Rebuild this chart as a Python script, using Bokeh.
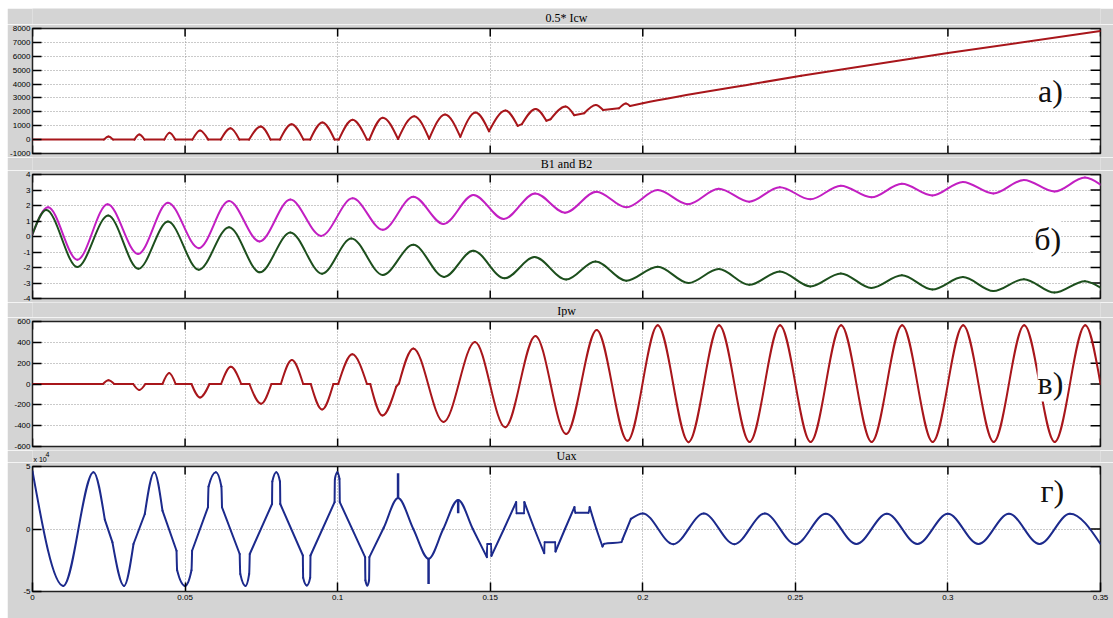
import math
from bokeh.plotting import figure
from bokeh.models import Range1d, FixedTicker, Label, ColumnDataSource, Spacer
from bokeh.layouts import column, row
from bokeh.embed import file_html
from bokeh.resources import INLINE

# ---------------- data (time in s) ----------------
x_ticks = [0, 0.05, 0.1, 0.15, 0.2, 0.25, 0.3, 0.35]
x_tick_labels = ["0", "0.05", "0.1", "0.15", "0.2", "0.25", "0.3", "0.35"]
titles = ["0.5* Icw", "B1 and B2", "Ipw", "Uax"]
panel_letters = ["а)", "б)", "в)", "г)"]

icw_ticks = [-1000, 0, 1000, 2000, 3000, 4000, 5000, 6000, 7000, 8000]
b_ticks = [-4, -3, -2, -1, 0, 1, 2, 3, 4]
ipw_ticks = [-600, -400, -200, 0, 200, 400, 600]
uax_ticks = [-5, 0, 5]

# 0.5*Icw : smooth pieces joined at corners, (t, value)
icw = [
    [(0.0, 0), (0.0234, 0)],
    [(0.0234, 0), (0.0249, 220), (0.0264, 0)],
    [(0.0264, 0), (0.0334, 0)],
    [(0.0334, 0), (0.0350, 360), (0.0367, 0)],
    [(0.0367, 0), (0.0432, 0)],
    [(0.0432, 0), (0.0449, 500), (0.0468, 0)],
    [(0.0468, 0), (0.0524, 0)],
    [(0.0524, 0), (0.0549, 660), (0.0576, 0)],
    [(0.0576, 0), (0.0617, 0)],
    [(0.0617, 0), (0.0649, 820), (0.0678, 0)],
    [(0.0678, 0), (0.0710, 0)],
    [(0.0710, 0), (0.0748, 950), (0.0780, 0)],
    [(0.0780, 0), (0.0811, 0)],
    [(0.0811, 0), (0.0849, 1100), (0.0888, 0)],
    [(0.0888, 0), (0.0910, 0)],
    [(0.0910, 0), (0.0950, 1230), (0.0990, 0)],
    [(0.0990, 0), (0.1004, 0)],
    [(0.1004, 0), (0.1049, 1430), (0.1096, 0)],
    [(0.1096, 0), (0.1104, 0)],
    [(0.1104, 0), (0.1148, 1580), (0.1198, 40)],
    [(0.1198, 40), (0.1251, 1690), (0.1300, 60)],
    [(0.1300, 60), (0.1352, 1810), (0.1402, 200)],
    [(0.1402, 200), (0.1452, 1950), (0.1496, 600)],
    [(0.1496, 600), (0.1550, 2090), (0.1590, 990)],
    [(0.1590, 990), (0.1604, 1120)],
    [(0.1604, 1120), (0.1649, 2210), (0.1684, 1360)],
    [(0.1684, 1360), (0.1698, 1470)],
    [(0.1698, 1470), (0.1747, 2380), (0.1775, 1760)],
    [(0.1775, 1760), (0.1808, 1900)],
    [(0.1808, 1900), (0.1846, 2500), (0.1870, 2130)],
    [(0.1870, 2130), (0.1922, 2250)],
    [(0.1922, 2250), (0.1945, 2600), (0.1958, 2420)],
    [(0.1958, 2420), (0.2000, 2620), (0.2355, 3990), (0.2519, 4590), (0.3000, 6230), (0.3500, 7820)],
]

# B1 (magenta) and B2 (green): extremes of each half period
b1 = [(0.0, 0.15), (0.0051, 1.88), (0.0147, -1.50), (0.0246, 2.08), (0.0346, -1.13),
      (0.0444, 2.18), (0.0545, -0.75), (0.0644, 2.29), (0.0744, -0.32), (0.0845, 2.38),
      (0.0946, 0.04), (0.1049, 2.46), (0.1148, 0.43), (0.1248, 2.57), (0.1347, 0.81),
      (0.1445, 2.68), (0.1544, 1.13), (0.1647, 2.78), (0.1745, 1.54), (0.1848, 2.89),
      (0.1946, 1.88), (0.2049, 3.00), (0.2148, 2.08), (0.2249, 3.08), (0.2349, 2.25),
      (0.2449, 3.18), (0.2549, 2.40), (0.2649, 3.28), (0.2749, 2.53), (0.2849, 3.40),
      (0.2949, 2.65), (0.3049, 3.52), (0.3149, 2.78), (0.3249, 3.65), (0.3349, 2.90),
      (0.3449, 3.80), (0.3500, 3.35)]
b2 = [(0.0, 0.15), (0.0045, 1.71), (0.0147, -1.97), (0.0248, 1.35), (0.0347, -2.08),
      (0.0444, 0.96), (0.0545, -2.14), (0.0644, 0.60), (0.0745, -2.31), (0.0845, 0.26),
      (0.0949, -2.40), (0.1045, -0.13), (0.1148, -2.48), (0.1248, -0.54), (0.1349, -2.61),
      (0.1444, -0.92), (0.1547, -2.70), (0.1645, -1.33), (0.1749, -2.78), (0.1845, -1.61),
      (0.1946, -2.85), (0.2049, -1.95), (0.2150, -3.00), (0.2249, -2.10), (0.2349, -3.12),
      (0.2449, -2.25), (0.2549, -3.22), (0.2649, -2.38), (0.2749, -3.32), (0.2849, -2.50),
      (0.2949, -3.42), (0.3049, -2.62), (0.3149, -3.52), (0.3249, -2.75), (0.3349, -3.62),
      (0.3449, -2.88), (0.3500, -3.30)]

# Ipw
ipw = [
    [(0.0, 0), (0.0231, 0)],
    [(0.0231, 0), (0.0249, 35), (0.0268, 0)],
    [(0.0268, 0), (0.0330, 0)],
    [(0.0330, 0), (0.0350, -58), (0.0370, 0)],
    [(0.0370, 0), (0.0426, 0)],
    [(0.0426, 0), (0.0448, 105), (0.0469, 0)],
    [(0.0469, 0), (0.0521, 0)],
    [(0.0521, 0), (0.0549, -130), (0.0580, 0)],
    [(0.0580, 0), (0.0618, 0)],
    [(0.0618, 0), (0.0650, 165), (0.0684, 0)],
    [(0.0684, 0), (0.0711, 0)],
    [(0.0711, 0), (0.0749, -190), (0.0783, 0)],
    [(0.0783, 0), (0.0814, 0)],
    [(0.0814, 0), (0.0850, 230), (0.0887, 0)],
    [(0.0887, 0), (0.0912, 0)],
    [(0.0912, 0), (0.0949, -245), (0.0986, 0)],
    [(0.0986, 0), (0.1002, 0)],
    [(0.1002, 0), (0.1048, 285), (0.1096, 0)],
    [(0.1096, 0), (0.1107, 0)],
    [(0.1107, 0), (0.1147, -303), (0.1192, -25)],
    [(0.1192, -25), (0.1201, 5)],
    [(0.1201, 5), (0.1248, 342), (0.1347, -365), (0.1450, 403), (0.1549, -416),
     (0.1648, 461), (0.1749, -481), (0.1849, 519), (0.1950, -545), (0.2049, 563),
     (0.2150, -558), (0.2250, 563), (0.2350, -556), (0.2450, 564), (0.2550, -556),
     (0.2650, 564), (0.2750, -556), (0.2850, 564), (0.2950, -556), (0.3050, 564),
     (0.3150, -556), (0.3250, 564), (0.3350, -556), (0.3450, 564), (0.3500, 0)],
]

# Uax in units of 10^4
uax_e4 = [
    [(0.0, 4.62), (0.0101, -4.55), (0.0200, 4.55), (0.0237, 0.75)],
    [(0.0237, 0.75), (0.0262, -1.07)],
    [(0.0262, -1.07), (0.0300, -4.55), (0.0331, -1.20)],
    [(0.0331, -1.20), (0.0368, 1.20)],
    [(0.0368, 1.20), (0.0399, 4.55), (0.0426, 1.47)],
    [(0.0426, 1.47), (0.0472, -1.74)],
    [(0.0472, -1.74), (0.0474, -3.30), (0.0500, -4.55), (0.0521, -3.30), (0.0523, -1.74)],
    [(0.0523, -1.74), (0.0575, 1.74)],
    [(0.0575, 1.74), (0.0577, 3.40), (0.0601, 4.55), (0.0619, 3.40), (0.0621, 1.74)],
    [(0.0621, 1.74), (0.0679, -2.00)],
    [(0.0679, -2.00), (0.0681, -3.60), (0.0698, -4.55), (0.0710, -3.60), (0.0712, -2.00)],
    [(0.0712, -2.00), (0.0785, 2.00)],
    [(0.0785, 2.00), (0.0786, 3.80), (0.0799, 4.55), (0.0811, 3.80), (0.0812, 2.00)],
    [(0.0812, 2.00), (0.0886, -2.12)],
    [(0.0886, -2.12), (0.0887, -3.90), (0.0899, -4.52), (0.0910, -3.90), (0.0911, -2.12)],
    [(0.0911, -2.12), (0.0990, 2.15)],
    [(0.0990, 2.15), (0.0991, 4.00), (0.0999, 4.55), (0.1006, 4.00), (0.1007, 2.15)],
    [(0.1007, 2.15), (0.1090, -2.25)],
    [(0.1090, -2.25), (0.1091, -4.10), (0.1097, -4.52), (0.1103, -4.10), (0.1104, -2.25)],
    [(0.1104, -2.25), (0.1151, 0.10), (0.1198, 2.48), (0.1248, 0.00), (0.1298, -2.38),
     (0.1346, 0.00), (0.1395, 2.33), (0.1443, 0.00), (0.1489, -2.25)],
    [(0.1489, -2.25), (0.1490, -1.19), (0.1503, -1.19), (0.1504, -2.15)],
    [(0.1504, -2.15), (0.1545, 0.00), (0.1585, 2.15)],
    [(0.1585, 2.15), (0.1586, 1.27), (0.1611, 1.27), (0.1612, 2.15)],
    [(0.1612, 2.15), (0.1645, 0.00), (0.1677, -1.93)],
    [(0.1677, -1.93), (0.1678, -1.05), (0.1713, -1.05), (0.1714, -1.80)],
    [(0.1714, -1.80), (0.1745, 0.00), (0.1776, 1.75)],
    [(0.1776, 1.75), (0.1779, 1.30), (0.1822, 1.30), (0.1826, 1.75)],
    [(0.1826, 1.75), (0.1848, 0.00), (0.1868, -1.40)],
    [(0.1868, -1.40), (0.1873, -1.19), (0.1930, -1.05), (0.1934, -0.80)],
    [(0.1934, -0.80), (0.1961, 0.81)],
    [(0.1961, 0.81), (0.2000, 1.25), (0.2100, -1.22), (0.2200, 1.24), (0.2300, -1.22),
     (0.2400, 1.24), (0.2500, -1.22), (0.2600, 1.22), (0.2700, -1.20), (0.2800, 1.22),
     (0.2900, -1.20), (0.3000, 1.22), (0.3100, -1.20), (0.3200, 1.22), (0.3300, -1.20),
     (0.3400, 1.22), (0.3500, -1.20)],
]
# vertical spikes (t, from, to)
uax_spikes_e4 = [(0.1198, 2.48, 4.47), (0.1298, -2.38, -4.39), (0.1395, 2.33, 1.27)]

# ---------------- helpers ----------------
GRAY = "#d4d4d4"
W = 1106
BL, BR = 24, 13
FRAME_W = W - BL - BR


def bezier_source(pieces):
    """Monotone cubic (d3 monotoneX style) rendering of each smooth piece."""
    c = dict(x0=[], y0=[], x1=[], y1=[], cx0=[], cy0=[], cx1=[], cy1=[])
    for pts in pieces:
        xs = [q[0] for q in pts]
        ys = [q[1] for q in pts]
        n = len(xs)
        s = [(ys[i + 1] - ys[i]) / (xs[i + 1] - xs[i]) for i in range(n - 1)]
        m = [0.0] * n
        if n == 2:
            m = [s[0], s[0]]
        else:
            for i in range(1, n - 1):
                h0 = xs[i] - xs[i - 1]
                h1 = xs[i + 1] - xs[i]
                pp = (s[i - 1] * h1 + s[i] * h0) / (h0 + h1)
                if s[i - 1] * s[i] <= 0:
                    m[i] = 0.0
                else:
                    m[i] = math.copysign(2 * min(abs(s[i - 1]), abs(s[i]), 0.5 * abs(pp)), s[i])
            m[0] = (3 * s[0] - m[1]) / 2
            m[-1] = (3 * s[-1] - m[-2]) / 2
        for i in range(n - 1):
            dx = (xs[i + 1] - xs[i]) / 3
            c["x0"].append(xs[i]); c["y0"].append(ys[i])
            c["x1"].append(xs[i + 1]); c["y1"].append(ys[i + 1])
            c["cx0"].append(xs[i] + dx); c["cy0"].append(ys[i] + dx * m[i])
            c["cx1"].append(xs[i + 1] - dx); c["cy1"].append(ys[i + 1] - dx * m[i + 1])
    return ColumnDataSource(c)


def draw(p, pieces, color):
    p.bezier(x0="x0", y0="y0", x1="x1", y1="y1", cx0="cx0", cy0="cy0", cx1="cx1", cy1="cy1",
             source=bezier_source(pieces), line_color=color, line_width=2, line_cap="round")


def style_axis(ax, ticks, labels, standoff):
    ax.ticker = FixedTicker(ticks=ticks)
    ax.major_tick_in = 9
    ax.major_tick_out = 0
    ax.minor_tick_line_color = None
    ax.axis_line_color = None
    ax.major_tick_line_color = "black"
    ax.major_tick_line_width = 1.5
    ax.major_label_overrides = {t: l for t, l in zip(ticks, labels)}
    ax.major_label_text_font = "Liberation Sans"
    ax.major_label_text_font_size = "8px"
    ax.major_label_text_color = "#000000"
    ax.major_label_standoff = standoff


def strip(height, texts):
    """Gray band between panels holding the scope titles."""
    s = figure(width=W, height=height, x_range=Range1d(0, 0.35), y_range=Range1d(height, 0),
               output_backend="svg", toolbar_location=None,
               min_border_left=BL, min_border_right=BR, min_border_top=0, min_border_bottom=0,
               border_fill_color=GRAY, background_fill_color=GRAY, outline_line_color=None,
               x_axis_location=None, y_axis_location=None)
    s.grid.visible = False
    for (tx, ty, txt, size, align, xo, font) in texts:
        s.add_layout(Label(x=tx, y=ty, x_offset=xo, text=txt, text_align=align,
                           text_baseline="middle", text_font=font,
                           text_font_size=size, text_color="#000000"))
    return s


def make_panel(height, btop, bbot, y0, y1, yticks, frame_h, letter, letter_xy, show_x):
    p = figure(width=W, height=height, x_range=Range1d(0, 0.35), y_range=Range1d(y0, y1),
               output_backend="svg", toolbar_location=None,
               min_border_left=BL, min_border_right=BR, min_border_top=btop, min_border_bottom=bbot,
               border_fill_color=GRAY, background_fill_color="white",
               outline_line_color="#222222", outline_line_width=1.5)
    style_axis(p.yaxis[0], yticks, [str(v) for v in yticks], standoff=2)
    if show_x:
        style_axis(p.xaxis[0], x_ticks, x_tick_labels, standoff=3)
    else:
        p.xaxis.visible = False
    p.xgrid[0].ticker = FixedTicker(ticks=x_ticks)
    p.ygrid[0].ticker = FixedTicker(ticks=yticks)
    p.grid.grid_line_color = "#959595"
    p.grid.grid_line_dash = "1 2"
    p.grid.grid_line_width = 1
    # inward tick marks on the top, right (and bottom when unlabeled) edges
    lx = 10 * 0.35 / FRAME_W
    ly = 8 * (y1 - y0) / frame_h
    nx = len(x_ticks)
    p.segment(x0=x_ticks, y0=[y1] * nx, x1=x_ticks, y1=[y1 - ly] * nx,
              line_color="black", line_width=1.5)
    if not show_x:
        p.segment(x0=x_ticks, y0=[y0] * nx, x1=x_ticks, y1=[y0 + ly] * nx,
                  line_color="black", line_width=1.5)
    ny = len(yticks)
    p.segment(x0=[0.35 - lx] * ny, y0=yticks, x1=[0.35] * ny, y1=yticks,
              line_color="black", line_width=1.5)
    p._letter = Label(x=letter_xy[0], y=letter_xy[1], text=letter, text_align="center",
                      text_baseline="middle", text_font="Liberation Serif", text_font_size="32px",
                      text_color="#111111", background_fill_color="white")
    return p


SERIF = "Liberation Serif"
SANS = "Liberation Sans"

s1 = strip(16, [(0.175, 9, titles[0], "12px", "center", 0, SERIF)])
p1 = make_panel(133, 4, 4, -1000, 8000, icw_ticks, 125, panel_letters[0], (0.3336, 3536), False)
draw(p1, icw, "#a8161b")
p1.add_layout(p1._letter)

s2 = strip(13, [(0.175, 6.5, titles[1], "12px", "center", 0, SERIF)])
p2 = make_panel(132, 4, 4, -4, 4, b_ticks, 124, panel_letters[1], (0.3327, -0.13), False)
draw(p2, [b1], "#c21fc2")
draw(p2, [b2], "#1d4f1d")
p2.add_layout(p2._letter)

s3 = strip(15, [(0.175, 8, titles[2], "12px", "center", 0, SERIF)])
p3 = make_panel(133, 4, 4, -600, 600, ipw_ticks, 125, panel_letters[2], (0.3336, 5), False)
draw(p3, ipw, "#a8161b")
p3.add_layout(p3._letter)

s4 = strip(12, [(0.175, 5.5, titles[3], "12px", "center", 0, SERIF),
                (0.0, 9, "x 10", "7px", "left", 1, SANS),
                (0.0, 3.5, "4", "7px", "left", 13, SANS)])
p4 = make_panel(156, 4, 27, -5, 5, uax_ticks, 125, panel_letters[3], (0.3342, 3.08), True)
draw(p4, uax_e4, "#1c2a8c")
p4.segment(x0=[s[0] for s in uax_spikes_e4], y0=[s[1] for s in uax_spikes_e4],
           x1=[s[0] for s in uax_spikes_e4], y1=[s[2] for s in uax_spikes_e4],
           line_color="#1c2a8c", line_width=2.5)
p4.add_layout(p4._letter)

layout = row(Spacer(width=7, height=618),
             column(Spacer(width=W, height=8), s1, p1, s2, p2, s3, p3, s4, p4))

open("out.html", "w").write(file_html(layout, INLINE))
